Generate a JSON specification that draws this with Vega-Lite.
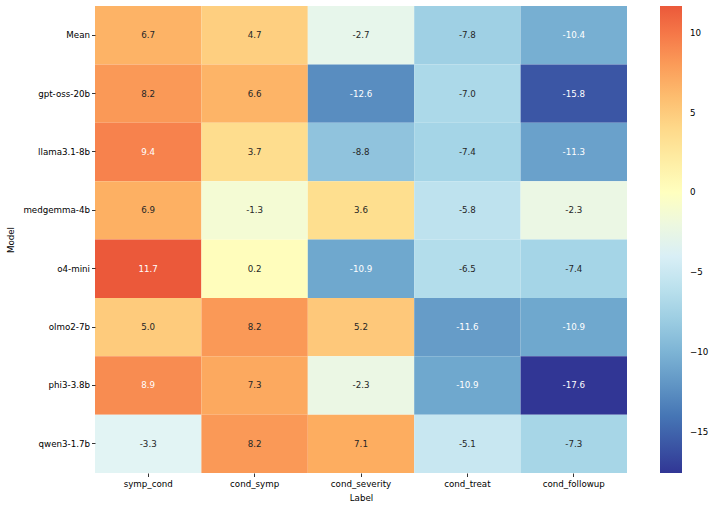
{
  "$schema": "https://vega.github.io/schema/vega-lite/v6.json",
  "autosize": "none",
  "width": 532,
  "height": 467,
  "padding": {"left": 95, "top": 6, "right": 87, "bottom": 34},
  "background": "white",
  "config": {
    "view": {"stroke": null},
    "font": "DejaVu Sans",
    "locale": {"number": {"decimal": ".", "thousands": ",", "grouping": [3], "currency": ["$", ""], "minus": "-"}},
    "axis": {
      "domain": false, "grid": false, "ticks": true, "tickSize": 3.5, "tickColor": "#000", "tickWidth": 0.8,
      "labelFont": "DejaVu Sans", "labelFontSize": 8.7, "labelColor": "#000", "labelPadding": 2,
      "titleFont": "DejaVu Sans", "titleFontSize": 8.7, "titleFontWeight": "normal", "titleColor": "#000"
    }
  },
  "data": {"values": [
    {"model": "Mean", "label": "symp_cond", "value": 6.7},
    {"model": "Mean", "label": "cond_symp", "value": 4.7},
    {"model": "Mean", "label": "cond_severity", "value": -2.7},
    {"model": "Mean", "label": "cond_treat", "value": -7.8},
    {"model": "Mean", "label": "cond_followup", "value": -10.4},
    {"model": "gpt-oss-20b", "label": "symp_cond", "value": 8.2},
    {"model": "gpt-oss-20b", "label": "cond_symp", "value": 6.6},
    {"model": "gpt-oss-20b", "label": "cond_severity", "value": -12.6},
    {"model": "gpt-oss-20b", "label": "cond_treat", "value": -7.0},
    {"model": "gpt-oss-20b", "label": "cond_followup", "value": -15.8},
    {"model": "llama3.1-8b", "label": "symp_cond", "value": 9.4},
    {"model": "llama3.1-8b", "label": "cond_symp", "value": 3.7},
    {"model": "llama3.1-8b", "label": "cond_severity", "value": -8.8},
    {"model": "llama3.1-8b", "label": "cond_treat", "value": -7.4},
    {"model": "llama3.1-8b", "label": "cond_followup", "value": -11.3},
    {"model": "medgemma-4b", "label": "symp_cond", "value": 6.9},
    {"model": "medgemma-4b", "label": "cond_symp", "value": -1.3},
    {"model": "medgemma-4b", "label": "cond_severity", "value": 3.6},
    {"model": "medgemma-4b", "label": "cond_treat", "value": -5.8},
    {"model": "medgemma-4b", "label": "cond_followup", "value": -2.3},
    {"model": "o4-mini", "label": "symp_cond", "value": 11.7},
    {"model": "o4-mini", "label": "cond_symp", "value": 0.2},
    {"model": "o4-mini", "label": "cond_severity", "value": -10.9},
    {"model": "o4-mini", "label": "cond_treat", "value": -6.5},
    {"model": "o4-mini", "label": "cond_followup", "value": -7.4},
    {"model": "olmo2-7b", "label": "symp_cond", "value": 5.0},
    {"model": "olmo2-7b", "label": "cond_symp", "value": 8.2},
    {"model": "olmo2-7b", "label": "cond_severity", "value": 5.2},
    {"model": "olmo2-7b", "label": "cond_treat", "value": -11.6},
    {"model": "olmo2-7b", "label": "cond_followup", "value": -10.9},
    {"model": "phi3-3.8b", "label": "symp_cond", "value": 8.9},
    {"model": "phi3-3.8b", "label": "cond_symp", "value": 7.3},
    {"model": "phi3-3.8b", "label": "cond_severity", "value": -2.3},
    {"model": "phi3-3.8b", "label": "cond_treat", "value": -10.9},
    {"model": "phi3-3.8b", "label": "cond_followup", "value": -17.6},
    {"model": "qwen3-1.7b", "label": "symp_cond", "value": -3.3},
    {"model": "qwen3-1.7b", "label": "cond_symp", "value": 8.2},
    {"model": "qwen3-1.7b", "label": "cond_severity", "value": 7.1},
    {"model": "qwen3-1.7b", "label": "cond_treat", "value": -5.1},
    {"model": "qwen3-1.7b", "label": "cond_followup", "value": -7.3}
  ]},
  "encoding": {
    "x": {"field": "label", "type": "nominal", "sort": ["symp_cond", "cond_symp", "cond_severity", "cond_treat", "cond_followup"],
      "scale": {"paddingInner": 0, "paddingOuter": 0},
      "axis": {"title": "Label", "labelAngle": 0, "labelPadding": 3, "titlePadding": 5}},
    "y": {"field": "model", "type": "nominal", "sort": ["Mean", "gpt-oss-20b", "llama3.1-8b", "medgemma-4b", "o4-mini", "olmo2-7b", "phi3-3.8b", "qwen3-1.7b"],
      "scale": {"paddingInner": 0, "paddingOuter": 0},
      "axis": {"title": "Model", "titleX": -80, "titleY": 233.5}}
  },
  "layer": [
    {
      "mark": {"type": "rect", "strokeWidth": 0},
      "encoding": {
        "color": {"field": "value", "type": "quantitative",
          "scale": {"type": "linear",
            "domain": [-17.6, -14.08, -10.56, -7.04, -3.52, 0, 3.52, 7.04, 10.56, 11.7],
            "range": ["#313695", "#4575b4", "#74add1", "#abd9e9", "#e0f3f8", "#ffffbf", "#fee090", "#fdae61", "#f46d43", "#eb593a"],
            "interpolate": "rgb"},
          "legend": {"title": null, "orient": "right", "offset": 33, "padding": 0,
            "gradientLength": 467, "gradientThickness": 22, "gradientStrokeWidth": 0,
            "values": [-15, -10, -5, 0, 5, 10],
            "labelExpr": "replace(datum.label, '-', '\u2212')",
            "labelFont": "DejaVu Sans", "labelFontSize": 8.7, "labelColor": "#000", "labelOffset": 8}}
      }
    },
    {
      "mark": {"type": "text", "fontSize": 8.7, "font": "DejaVu Sans"},
      "encoding": {
        "text": {"field": "value", "type": "quantitative", "format": ".1f"},
        "color": {"condition": {"test": "datum.value > 8.5 || datum.value < -9.5", "value": "#ffffff"}, "value": "#262626"}
      }
    }
  ]
}
